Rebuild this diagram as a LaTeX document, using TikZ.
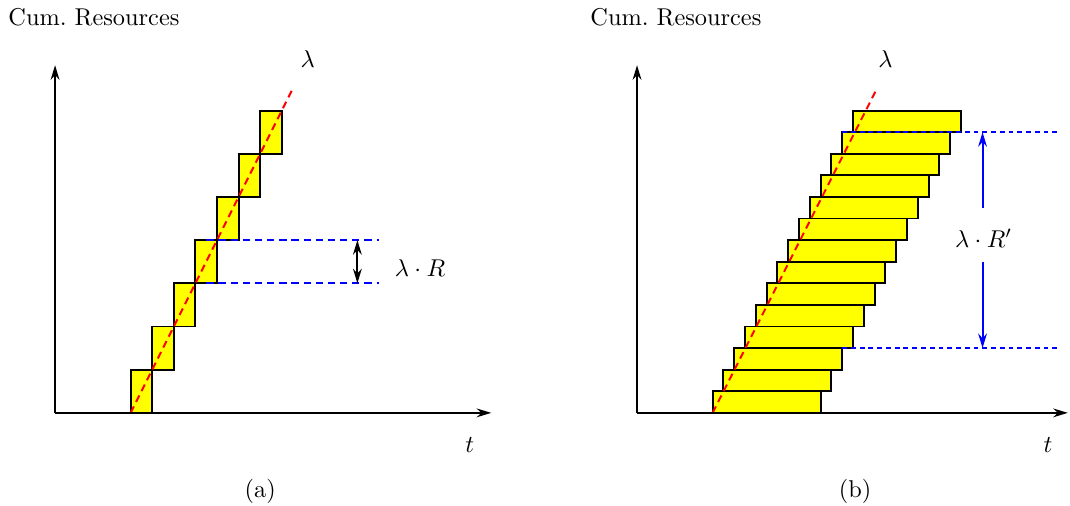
\documentclass[tikz,border=0pt]{standalone}
\usetikzlibrary{arrows.meta}
\definecolor{jobyellow}{RGB}{255,255,0}
\tikzset{
  tip/.style={>={Stealth[length=6pt,width=3.6pt]}},
  axis/.style={thick,->,tip},
  job/.style={draw,thick,fill=jobyellow},
  rate/.style={red,thick,densely dashed},
  level/.style={blue,thick,densely dashed},
  levelb/.style={blue,thick,dash pattern=on 2pt off 1.6pt},
}
\begin{document}
\begin{tikzpicture}[x=0.312cm,y=0.312cm]
\useasboundingbox (-2.55,-4.31) rectangle (47,19.12);
% (a) short jobs
\coordinate (O) at (0,0);
\coordinate (Ytop) at (0,16.1);
\coordinate (Xend) at (20.2,0);
\foreach \k in {0,...,6}
  \draw[job] (3.5+\k,2*\k) rectangle ++(1,2);
\coordinate (Ls) at (3.5,0);
\coordinate (Le) at (11,15);
\draw[rate] (Ls) -- (Le);
\draw[axis] (O) -- (Ytop);
\draw[axis] (O) -- (Xend);
\coordinate (Lo1) at (7,6);
\coordinate (Lo2) at (15,6);
\coordinate (Hi1) at (7,8);
\coordinate (Hi2) at (15,8);
\draw[level] (Lo1) -- (Lo2);
\draw[level] (Hi1) -- (Hi2);
\coordinate (Atop) at (14,8);
\coordinate (Abot) at (14,6);
\draw[thick,<->,tip] (Abot) -- (Atop);
\node (lamR) at (16.9,6.7) {$\lambda\cdot R$};
\node (lamA) at (11.7,16.4) {$\lambda$};
\node (tA) at (19.2,-1.5) {$t$};
\node (yA) at (1.8,18.3) {Cum.\ Resources};
\node (capA) at (9.5,-3.66) {(a)};
% (b) long jobs
\begin{scope}[shift={(26.95,0)}]
\coordinate (O') at (0,0);
\coordinate (Ytop') at (0,16.1);
\coordinate (Xend') at (19.95,0);
\foreach \k in {0,...,13}
  \draw[job] (3.5+0.5*\k,\k) rectangle ++(5,1);
\coordinate (Ls') at (3.5,0);
\coordinate (Le') at (11.1,15);
\draw[rate] (Ls') -- (Le');
\draw[axis] (O') -- (Ytop');
\draw[axis] (O') -- (Xend');
\coordinate (Lo1') at (9.5,3);
\coordinate (Lo2') at (19.6,3);
\coordinate (Hi1') at (9.5,13);
\coordinate (Hi2') at (19.6,13);
\draw[levelb] (Lo1') -- (Lo2');
\draw[levelb] (Hi1') -- (Hi2');
\node (lamRp) at (16.05,8.1) {$\lambda\cdot R'$};
\coordinate (Bu) at (16,9.5);
\coordinate (Bl) at (16,7);
\coordinate (Bt) at (16,13);
\coordinate (Bb) at (16,3);
\draw[blue,thick,->,tip] (Bu) -- (Bt);
\draw[blue,thick,->,tip] (Bl) -- (Bb);
\node (lamB) at (11.5,16.4) {$\lambda$};
\node (tB) at (19.03,-1.5) {$t$};
\node (yB) at (1.8,18.3) {Cum.\ Resources};
\node (capB) at (10.1,-3.66) {(b)};
\end{scope}
\end{tikzpicture}
\end{document}
